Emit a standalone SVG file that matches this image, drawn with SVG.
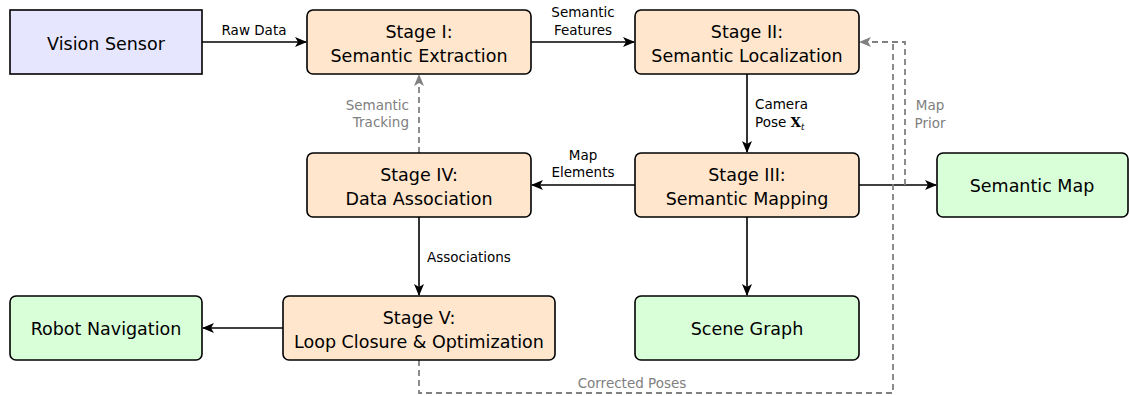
<svg xmlns="http://www.w3.org/2000/svg" width="1129" height="396" viewBox="0 0 1129 396">
<style>
.box{stroke:#000;stroke-width:1.6}
.sensor{fill:#e6e6ff}
.stage{fill:#ffe6cc}
.out{fill:#d9ffd9}
.t{font-family:"DejaVu Sans",sans-serif;font-size:17.5px;text-anchor:middle;fill:#000}
.l{font-family:"DejaVu Sans",sans-serif;font-size:13.5px;fill:#000}
.g{fill:#808080}
.c{text-anchor:middle}
.e{text-anchor:end}
.a{fill:none;stroke:#000;stroke-width:1.6}
.d{fill:none;stroke:#808080;stroke-width:1.8;stroke-dasharray:6,4}
</style>
<defs>
<marker id="ah" viewBox="0 0 12 10" refX="11" refY="5" markerWidth="12" markerHeight="10" markerUnits="userSpaceOnUse" orient="auto">
<path d="M0,0 L12,5 L0,10 L3,5 Z" fill="#000"/>
</marker>
<marker id="ahg" viewBox="0 0 12 10" refX="11" refY="5" markerWidth="12" markerHeight="10" markerUnits="userSpaceOnUse" orient="auto">
<path d="M0,0 L12,5 L0,10 L3,5 Z" fill="#808080"/>
</marker>
</defs>
<g id="connectors">
<path class="a" d="M202,42 H306" marker-end="url(#ah)"/>
<path class="a" d="M531,42 H634" marker-end="url(#ah)"/>
<path class="a" d="M747,74 V152" marker-end="url(#ah)"/>
<path class="a" d="M635,185 H532" marker-end="url(#ah)"/>
<path class="a" d="M859,185 H936" marker-end="url(#ah)"/>
<path class="a" d="M419,217 V295" marker-end="url(#ah)"/>
<path class="a" d="M747,217 V295" marker-end="url(#ah)"/>
<path class="a" d="M283,328 H203" marker-end="url(#ah)"/>
<path class="d" d="M419,153 V75" marker-end="url(#ahg)"/>
<path class="d" d="M905,185 V42 H860" marker-end="url(#ahg)"/>
<path class="d" d="M419,360 V393 H893 V42"/>
<text class="l c" x="254" y="35">Raw Data</text>
<text class="l c" x="583" y="17">Semantic</text>
<text class="l c" x="583" y="35">Features</text>
<text class="l" x="755" y="109">Camera</text>
<text class="l" x="755" y="127">Pose <tspan font-family="'DejaVu Serif',serif" font-weight="bold">X</tspan><tspan font-family="'DejaVu Serif',serif" font-style="italic" font-size="9" dy="3">t</tspan></text>
<text class="l c g" x="930" y="110">Map</text>
<text class="l c g" x="930" y="128">Prior</text>
<text class="l e g" x="409" y="110">Semantic</text>
<text class="l e g" x="409" y="127">Tracking</text>
<text class="l c" x="583" y="160">Map</text>
<text class="l c" x="583" y="177">Elements</text>
<text class="l" x="427" y="262">Associations</text>
<text class="l c g" x="632" y="388">Corrected Poses</text>
</g>
<g id="vision-sensor">
<rect class="box sensor" x="10" y="10" width="192" height="64"/>
<text class="t" x="106" y="50">Vision Sensor</text>
</g>
<g id="stage1">
<rect class="box stage" x="307" y="10" width="224" height="64" rx="6"/>
<text class="t" x="419" y="38">Stage I:</text>
<text class="t" x="419" y="62">Semantic Extraction</text>
</g>
<g id="stage2">
<rect class="box stage" x="635" y="10" width="224" height="64" rx="6"/>
<text class="t" x="747" y="38">Stage II:</text>
<text class="t" x="747" y="62">Semantic Localization</text>
</g>
<g id="stage3">
<rect class="box stage" x="635" y="153" width="224" height="64" rx="6"/>
<text class="t" x="747" y="181">Stage III:</text>
<text class="t" x="747" y="205">Semantic Mapping</text>
</g>
<g id="stage4">
<rect class="box stage" x="307" y="153" width="224" height="64" rx="6"/>
<text class="t" x="419" y="181">Stage IV:</text>
<text class="t" x="419" y="205">Data Association</text>
</g>
<g id="stage5">
<rect class="box stage" x="283" y="296" width="272" height="64" rx="6"/>
<text class="t" x="419" y="324">Stage V:</text>
<text class="t" x="419" y="348">Loop Closure &amp; Optimization</text>
</g>
<g id="semantic-map">
<rect class="box out" x="937" y="153" width="191" height="64" rx="6"/>
<text class="t" x="1032" y="192">Semantic Map</text>
</g>
<g id="scene-graph">
<rect class="box out" x="635" y="296" width="224" height="64" rx="6"/>
<text class="t" x="747" y="335">Scene Graph</text>
</g>
<g id="robot-navigation">
<rect class="box out" x="10" y="296" width="192" height="64" rx="6"/>
<text class="t" x="106" y="335">Robot Navigation</text>
</g>
</svg>
